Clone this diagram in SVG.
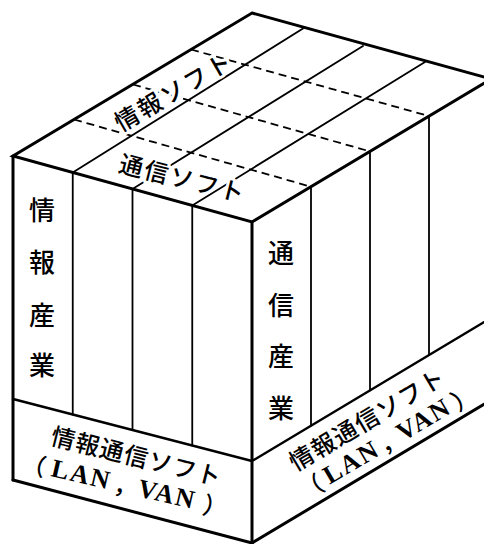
<svg xmlns="http://www.w3.org/2000/svg" width="484" height="544" viewBox="0 0 484 544">
<style>
.edge{fill:none;stroke:#000;stroke-width:3;stroke-linejoin:miter;stroke-linecap:round}
.band{fill:none;stroke:#000;stroke-width:2.4;stroke-linecap:round}
.inner{fill:none;stroke:#000;stroke-width:1.8;stroke-linecap:round}
.dash{fill:none;stroke:#000;stroke-width:1.8;stroke-dasharray:8 5}
.jp{font-family:"Noto Sans CJK JP","Noto Sans CJK SC",sans-serif;font-size:24px;font-weight:500;fill:#000;dominant-baseline:central}
.halo{stroke:#fff;stroke-width:6;stroke-linejoin:round;paint-order:stroke}
.vt{font-family:"Noto Sans CJK JP","Noto Sans CJK SC",sans-serif;font-size:26px;font-weight:500;fill:#000;text-anchor:middle;dominant-baseline:central}
.lat{font-family:"Liberation Serif",serif;font-weight:bold;font-size:26px;letter-spacing:2px}
</style>
<rect width="484" height="544" fill="#fff"/>

<g id="connectors">
  <!-- top face grid: solid lines -->
  <line class="inner" x1="72.75" y1="172.5" x2="303" y2="28.5"/>
  <line class="inner" x1="132.5" y1="189" x2="363" y2="46"/>
  <line class="inner" x1="192.25" y1="205.5" x2="425" y2="62"/>
  <!-- top face grid: dashed lines -->
  <line class="dash" x1="74" y1="119.5" x2="311" y2="186.7"/>
  <line class="dash" x1="133" y1="84.5" x2="370" y2="151.4"/>
  <line class="dash" x1="191" y1="49.5" x2="429" y2="116.1"/>
  <!-- left face columns -->
  <line class="inner" x1="72.75" y1="172.5" x2="72.75" y2="414.5"/>
  <line class="inner" x1="132.5" y1="189" x2="132.5" y2="430"/>
  <line class="inner" x1="192.25" y1="205.5" x2="192.25" y2="445.5"/>
  <!-- right face columns -->
  <line class="inner" x1="311" y1="186.7" x2="311" y2="425.7"/>
  <line class="inner" x1="370" y1="151.4" x2="370" y2="390.4"/>
  <line class="inner" x1="429" y1="116.1" x2="429" y2="355.1"/>
  <!-- base bands -->
  <line class="band" x1="13" y1="399" x2="252" y2="461"/>
  <line class="band" x1="252" y1="461" x2="491" y2="318"/>
  <!-- outer edges -->
  <polygon class="edge" points="252,13 491,79 252,222 13,156"/>
  <line class="edge" x1="13" y1="156" x2="13" y2="480"/>
  <line class="edge" x1="252" y1="222" x2="252" y2="543"/>
  <line class="edge" x1="13" y1="480" x2="252" y2="543"/>
  <line class="edge" x1="252" y1="543" x2="491" y2="400"/>
</g>

<g id="info-soft">
  <text class="jp halo" text-anchor="middle" letter-spacing="2.5" transform="translate(173,90) rotate(-30)">情報ソフト</text>
</g>
<g id="comm-soft">
  <text class="jp halo" text-anchor="middle" letter-spacing="2" transform="translate(183,177) rotate(14)">通信ソフト</text>
</g>

<g id="info-industry">
  <text class="vt" x="42" y="208">情</text>
  <text class="vt" x="42" y="260">報</text>
  <text class="vt" x="42" y="313">産</text>
  <text class="vt" x="42" y="363">業</text>
</g>
<g id="comm-industry">
  <text class="vt" x="281" y="251">通</text>
  <text class="vt" x="281" y="303">信</text>
  <text class="vt" x="281" y="354">産</text>
  <text class="vt" x="281" y="406">業</text>
</g>

<g id="base-left">
  <text class="jp" text-anchor="middle" letter-spacing="1" transform="translate(137,455) rotate(14)">情報通信ソフト</text>
  <text class="jp" transform="translate(125,484) rotate(13)"><tspan x="-105">（</tspan><tspan class="lat" x="-75">LAN</tspan><tspan x="-10">，</tspan><tspan class="lat" x="14">VAN</tspan><tspan x="81">）</tspan></text>
</g>
<g id="base-right">
  <text class="jp" text-anchor="middle" letter-spacing="1.2" transform="translate(366.5,418) rotate(-30.5)">情報通信ソフト</text>
  <text class="jp" transform="translate(386,441) rotate(-30.5)"><tspan x="-100">（</tspan><tspan class="lat" x="-71">LAN</tspan><tspan x="-8">，</tspan><tspan class="lat" x="14">VAN</tspan><tspan x="77">）</tspan></text>
</g>
</svg>
